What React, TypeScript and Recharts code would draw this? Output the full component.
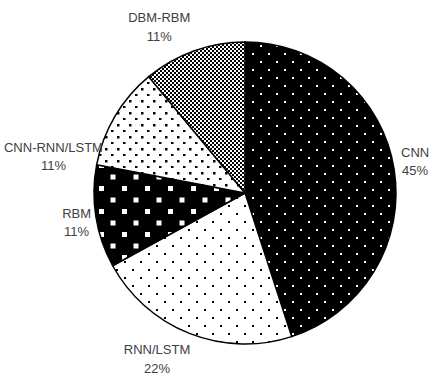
import { PieChart, Pie, Cell } from 'recharts'

// model families and their share of the surveyed papers (%)
const models = ['CNN', 'RNN/LSTM', 'RBM', 'CNN-RNN/LSTM', 'DBM-RBM']
const shares = [45, 22, 11, 11, 11]
const patterns = ['cnnDots', 'rnnDots', 'rbmSquares', 'hybridDots', 'dbmChecker']

// where each two-line label sits relative to its slice: angle shift (deg) and distance past the rim (px)
const labelShift = [
  { da: 1.5, dr: 22 },
  { da: -6.3, dr: 37 },
  { da: 1, dr: 20 },
  { da: 19.8, dr: 44 },
  { da: 7.5, dr: 36 },
]

const data = models.map((name, i) => ({ name, value: shares[i] }))

const RAD = Math.PI / 180

function renderLabel(props: any) {
  const { cx, cy, midAngle, outerRadius, index, name, value } = props
  const shift = labelShift[index]
  const a = (midAngle + shift.da) * RAD
  const r = outerRadius + shift.dr
  const x = cx + r * Math.cos(a)
  const y = cy - r * Math.sin(a)
  return (
    <text
      x={x}
      y={y}
      textAnchor="middle"
      fill="#404040"
      fontSize={13}
      fontFamily="'Liberation Sans', Arial, sans-serif"
    >
      <tspan x={x} dy={-9.25 + 4.5}>{name}</tspan>
      <tspan x={x} dy={18.5}>{`${value}%`}</tspan>
    </text>
  )
}

function PatternDefs() {
  return (
    <svg width={0} height={0} style={{ position: 'absolute' }}>
      <defs>
        <pattern id="cnnDots" patternUnits="userSpaceOnUse" width={16} height={16}>
          <rect width={16} height={16} fill="#000" />
          <rect x={12} y={5} width={2} height={2} fill="#fff" />
          <rect x={4} y={13} width={2} height={2} fill="#fff" />
        </pattern>
        <pattern id="rnnDots" patternUnits="userSpaceOnUse" width={16} height={16}>
          <rect width={16} height={16} fill="#fff" />
          <rect x={12} y={5} width={2} height={2} fill="#000" />
          <rect x={4} y={13} width={2} height={2} fill="#000" />
        </pattern>
        <pattern id="rbmSquares" patternUnits="userSpaceOnUse" width={23} height={23}>
          <rect width={23} height={23} fill="#000" />
          <rect x={7} y={2} width={5} height={5} fill="#fff" />
          <rect x={18.5} y={13.5} width={5} height={5} fill="#fff" />
          <rect x={-4.5} y={13.5} width={5} height={5} fill="#fff" />
        </pattern>
        <pattern id="hybridDots" patternUnits="userSpaceOnUse" width={12} height={12}>
          <rect width={12} height={12} fill="#fff" />
          <rect x={9} y={4} width={2.5} height={2.5} fill="#000" />
          <rect x={3} y={10} width={2.5} height={2.5} fill="#000" />
        </pattern>
        <pattern id="dbmChecker" patternUnits="userSpaceOnUse" width={4} height={4}>
          <rect width={4} height={4} fill="#000" />
          <rect x={0} y={0} width={2} height={2} fill="#fff" />
          <rect x={2} y={2} width={2} height={2} fill="#fff" />
        </pattern>
      </defs>
    </svg>
  )
}

export default function App() {
  return (
    <div style={{ position: 'absolute', left: 0, top: 0, width: 430, height: 379, background: '#fff' }}>
      <PatternDefs />
      <PieChart width={430} height={379} margin={{ top: 0, right: 0, bottom: 0, left: 0 }}>
        <Pie
          data={data}
          dataKey="value"
          nameKey="name"
          cx={245}
          cy={193}
          outerRadius={151}
          startAngle={90}
          endAngle={-270}
          stroke="#000"
          strokeWidth={1.5}
          label={renderLabel}
          labelLine={false}
          isAnimationActive={false}
        >
          {data.map((d, i) => (
            <Cell key={d.name} fill={`url(#${patterns[i]})`} />
          ))}
        </Pie>
      </PieChart>
    </div>
  )
}
